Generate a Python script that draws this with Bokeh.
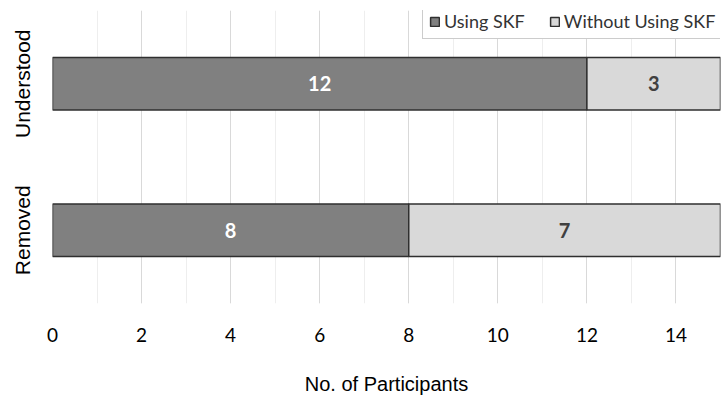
from bokeh.plotting import figure
from bokeh.models import ColumnDataSource, FactorRange, SingleIntervalTicker, Legend
from bokeh.core.properties import value
from bokeh.embed import file_html
from bokeh.resources import INLINE

categories = ["Removed", "Understood"]
using_skf = [8, 12]
without_skf = [7, 3]
series_names = ["Using SKF", "Without Using SKF"]

source = ColumnDataSource(dict(cat=categories, using=using_skf, without=without_skf))

p = figure(width=726, height=398, y_range=FactorRange(factors=categories, range_padding=0),
           x_range=(0, 15), output_backend="svg", toolbar_location=None,
           min_border_left=52, min_border_right=6, min_border_top=10, min_border_bottom=95)
p.outline_line_color = None

renderers = p.hbar_stack(["using", "without"], y="cat", height=0.36, source=source,
                         fill_color=["#808080", "#d9d9d9"], line_color="#2f2f2f", line_width=1.5)

# value labels
lx, ly, lt, lc = [], [], [], []
for c, u, w in zip(categories, using_skf, without_skf):
    lx += [u / 2, u + w / 2]
    ly += [c, c]
    lt += [str(u), str(w)]
    lc += ["#ffffff", "#404040"]
lab = ColumnDataSource(dict(x=lx, y=ly, t=lt, c=lc))
p.text(x="x", y="y", text="t", text_color="c", source=lab, text_align="center",
       text_baseline="middle", text_font=value("Lato"), text_font_style="bold",
       text_font_size="20px")

# axes
p.xaxis.ticker = SingleIntervalTicker(interval=2, num_minor_ticks=2)
p.xaxis.axis_line_color = None
p.xaxis.major_tick_line_color = None
p.xaxis.minor_tick_line_color = None
p.xaxis.major_label_text_font = "Lato"
p.xaxis.major_label_text_font_size = "19px"
p.xaxis.major_label_text_color = "#000000"
p.xaxis.major_label_standoff = 18
p.xaxis.axis_label = "No. of Participants"
p.xaxis.axis_label_text_font = "Liberation Sans"
p.xaxis.axis_label_text_font_style = "normal"
p.xaxis.axis_label_text_font_size = "20px"
p.xaxis.axis_label_text_color = "#000000"
p.xaxis.axis_label_standoff = 28

p.yaxis.axis_line_color = None
p.yaxis.major_tick_line_color = None
p.yaxis.minor_tick_line_color = None
p.yaxis.major_label_orientation = "vertical"
p.yaxis.major_label_text_font = "Liberation Sans"
p.yaxis.major_label_text_font_size = "21px"
p.yaxis.major_label_text_color = "#000000"
p.yaxis.major_label_standoff = 13

p.xgrid.grid_line_color = "#d9d9d9"
p.xgrid.minor_grid_line_color = "#eeeeee"
p.ygrid.grid_line_color = None

legend = Legend(items=[(series_names[0], [renderers[0]]), (series_names[1], [renderers[1]])],
                orientation="horizontal")
legend.margin = 0
legend.padding = 6
legend.spacing = 24
legend.glyph_width = 11
legend.glyph_height = 11
legend.label_standoff = 4
legend.label_text_font = "Lato"
legend.label_text_font_size = "18px"
legend.label_text_color = "#333333"
legend.border_line_color = "#999999"
legend.border_line_width = 1
legend.background_fill_alpha = 1
legend.location = (370, 264)
p.add_layout(legend, "center")

open("out.html", "w").write(file_html(p, INLINE))
